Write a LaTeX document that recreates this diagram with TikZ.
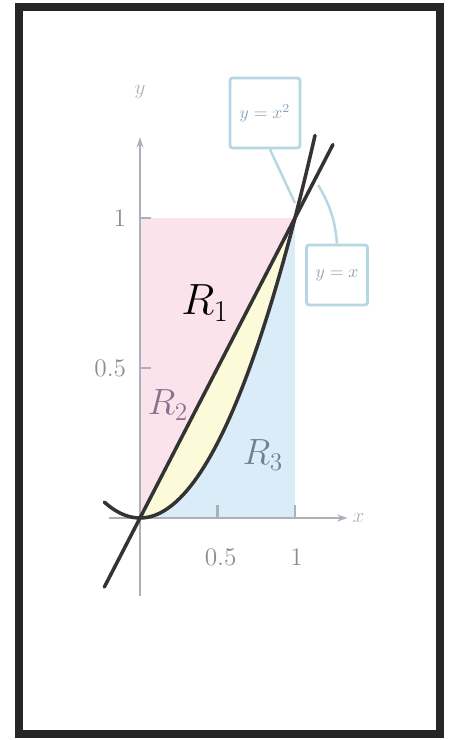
\documentclass[tikz,border=0pt]{standalone}
\usepackage{tikz}
\usetikzlibrary{calc,arrows.meta}

\definecolor{regpink}{RGB}{250,227,235}
\definecolor{regblue}{RGB}{217,236,247}
\definecolor{regyellow}{RGB}{252,250,216}
\definecolor{axisgray}{RGB}{172,176,186}
\definecolor{callblue}{RGB}{182,214,228}
\definecolor{calltext}{RGB}{140,164,184}
\definecolor{labpink}{RGB}{140,112,138}
\definecolor{labblue}{RGB}{112,128,146}

\tikzset{
  curve/.style={line width=2pt, black!80, line cap=round},
  axisline/.style={line width=1.2pt, axisgray},
  callout/.style={draw=callblue, line width=1.6pt, fill=white, rounded corners=1.5pt,
    text=calltext, font=\normalsize, inner sep=0pt},
  ticklab/.style={text=axisgray!80!black, font=\Large},
  faintlab/.style={font=\huge}
}

\begin{document}
\begin{tikzpicture}[x=0.02cm,y=-0.02cm]
  \useasboundingbox (0,0) rectangle (462,740);

  %frame
  \draw[line width=5pt, black!85] (19,7) rectangle (440,734);

  %regions and curves
  \begin{scope}[shift={(140,518)}, x=3.1cm, y=6cm]
    \coordinate (O) at (0,0);
    \coordinate (P) at (1,1);
    \coordinate (Q) at (0,1);
    \coordinate (S) at (1,0);
    \fill[regpink] (O) -- (P) -- (Q) -- cycle;
    \fill[regblue] (O) -- plot[domain=0:1, samples=40] (\x,\x*\x) -- (S) -- cycle;
    \fill[regyellow] (O) -- (P) -- plot[domain=1:0, samples=40] (\x,\x*\x) -- cycle;

    % axes
    \draw[axisline] (-0.2,0) -- (1.3,0);
    \draw[axisline, -{Stealth[length=6pt,width=4pt]}] (1.25,0) -- (1.34,0);
    \draw[axisline] (0,-0.26) -- (0,1.22);
    \draw[axisline, -{Stealth[length=6pt,width=4pt]}] (0,1.2) -- (0,1.27);
    \node[text=axisgray, font=\large\itshape] (xlab) at (1.41,0) {$x$};
    \node[text=axisgray, font=\large\itshape] (ylab) at (0,1.42) {$y$};

    % ticks
    \foreach \t in {0.5,1} {
      \draw[axisline] (\t,0) -- (\t,0.045);
      \draw[axisline] (0,\t) -- (0.07,\t);
    }
    \node[ticklab] (tx1) at (0.52,-0.13) {0.5};
    \node[ticklab] (tx2) at (1.01,-0.13) {1};
    \node[ticklab, anchor=east] (ty1) at (-0.05,0.5) {0.5};
    \node[ticklab, anchor=east] (ty2) at (-0.05,1) {1};

    % y = x and y = x^2
    \coordinate (L1) at (-0.23,-0.23);
    \coordinate (L2) at (1.245,1.245);
    \draw[curve] (L1) -- (L2);
    \draw[curve] plot[domain=-0.23:1.13, samples=60] (\x,\x*\x);

    \coordinate (tipA) at (1.0,1.05);
    \coordinate (tipB) at (1.15,1.11);
  \end{scope}

  %callouts
  \node[callout, minimum width=70*0.02cm, minimum height=70*0.02cm] (boxA) at (265,113) {$y=x^2$};
  \node[callout, minimum width=61*0.02cm, minimum height=60*0.02cm] (boxB) at (337,275) {$y=x$};
  \draw[callblue, line width=1.4pt] (boxA.south) ++(5,0) coordinate (boxAs) -- (tipA);
  \draw[callblue, line width=1.4pt] (boxB.north) to[out=95, in=-60] (tipB);

  %labels
  \node[font=\fontsize{24}{28}\selectfont] (R1) at (205,303) {$R_1$};
  \node[faintlab, text=labpink] (R2) at (168,405) {$R_2$};
  \node[faintlab, text=labblue] (R3) at (263,455) {$R_3$};
\end{tikzpicture}
\end{document}
